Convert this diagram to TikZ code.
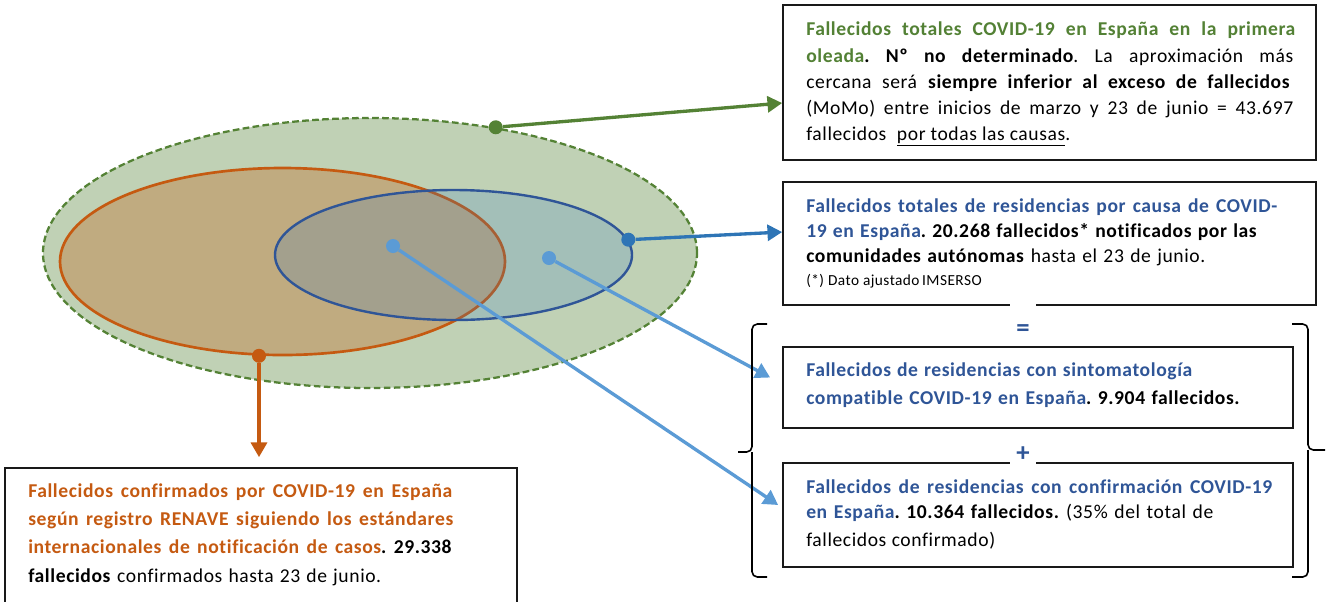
\documentclass[tikz,border=0pt]{standalone}
\usepackage{fontspec}
\setmainfont{Carlito}[LetterSpace=3,Ligatures={TeX,NoCommon}]
\usetikzlibrary{shapes.geometric,arrows.meta}
\frenchspacing
\definecolor{gfill}{HTML}{C0D1B5}
\definecolor{gline}{HTML}{548235}
\definecolor{ofill}{HTML}{C0AB80}
\definecolor{oline}{HTML}{C55A11}
\definecolor{bfill}{HTML}{2F77C4}
\definecolor{bline}{HTML}{2F5597}
\definecolor{barrow}{HTML}{2E75B6}
\definecolor{lblue}{HTML}{5B9BD5}
\definecolor{tgreen}{HTML}{538135}
\definecolor{tblue}{HTML}{2F5597}
\definecolor{torange}{HTML}{C55A11}
\newcommand{\jl}[2]{\makebox[#1][s]{#2}}
\newcommand{\mainfs}{\fontsize{14.7}{17}\selectfont}
\newcommand{\smallfs}{\fontsize{11.5}{13}\selectfont}
\begin{document}
\frenchspacing
\begin{tikzpicture}[x=0.75pt,y=-0.75pt,
  ell/.style={ellipse,inner sep=0pt},
  dot/.style={circle,inner sep=0pt,minimum size=10.5pt},
  conn/.style={line width=2.5pt,-{Triangle[length=11pt,width=12pt]}},
  box/.style={rectangle,draw=black!90,fill=white,line width=1.3pt,inner sep=0pt},
  tl/.style={anchor=base west,inner sep=0pt,font=\mainfs\frenchspacing},
  sl/.style={anchor=base west,inner sep=0pt,font=\smallfs},
  patch/.style={fill=white,inner sep=0pt,text=tblue,font=\fontsize{20}{20}\selectfont\bfseries},
  brc/.style={draw=black,line width=1.2pt,rounded corners=4pt}]
\useasboundingbox (0,0) rectangle (1330,601);

% ellipses
\node[ell,fill=gfill,draw=gline,line width=1.7pt,dash pattern=on 5pt off 2.5pt,
      minimum width=490.5pt,minimum height=202.5pt] (outer) at (370,253) {};
\node[ell,fill=ofill,draw=oline,line width=2pt,
      minimum width=333.75pt,minimum height=140.25pt] (orange) at (282.5,261.5) {};
\node[ell,fill=bfill,fill opacity=0.2,draw=bline,draw opacity=1,line width=1.8pt,
      minimum width=267.75pt,minimum height=97.5pt] (blue) at (453.5,255) {};

% boxes
\node[box,minimum width=399.75pt,minimum height=116.25pt] (box1) at (1049.5,82.5) {};
\node[box,minimum width=399.75pt,minimum height=92.25pt] (box2) at (1049.5,243.5) {};
\node[box,minimum width=382.5pt,minimum height=60.75pt] (box3) at (1038,387.5) {};
\node[box,minimum width=382.5pt,minimum height=78pt] (box4) at (1038,515) {};
\node[box,minimum width=384pt,minimum height=102.75pt] (box5) at (261,536.5) {};

% dots
\node[dot,fill=gline] (gd) at (outer.45) {};
\node[dot,fill=oline] (od) at (orange.256) {};
\node[dot,fill=barrow] (bd) at (blue.5) {};
\node[dot,fill=lblue] (l1) at (393,246) {};
\node[dot,fill=lblue] (l2) at (549,258) {};

% connectors
\draw[conn,gline] (gd) -- ([yshift=-15.4pt]box1.west);
\draw[conn,barrow] (bd) -- ([yshift=8.6pt]box2.west);
\draw[conn,lblue] (l2) -- ([xshift=-9pt,yshift=7.5pt]box3.west);
\draw[conn,lblue] (l1) -- ([xshift=-3pt,yshift=7.5pt]box4.west);
\draw[conn,oline,shorten >=7.5pt] (od) -- (od |- box5.north);

% braces
\draw[brc] (767,324) -- (752,324) -- (752,452) -- (738,452);
\draw[brc] (752,452) -- (752,577) -- (767,577);
\draw[brc] (1292,324) -- (1308,324) -- (1308,450) -- (1325,450);
\draw[brc] (1308,450) -- (1308,577) -- (1292,577);

% = and +
\node[patch,minimum width=20pt,minimum height=30pt] (eq) at (1023,323) {\raisebox{-9.75pt}[0pt][0pt]{=}};
\node[patch,minimum width=20pt,minimum height=27pt] (plus) at (1023,447) {\raisebox{-10.5pt}[0pt][0pt]{+}};

% box 1 text
\node[tl] (a1) at (806,35) {\jl{366.75pt}{\textcolor{tgreen}{\bfseries Fallecidos totales COVID-19 en España en la primera}}};
\node[tl] (a2) at (806,62) {\jl{365.25pt}{\textcolor{tgreen}{\bfseries oleada}\textbf{. Nº no determinado}. La aproximación más}};
\node[tl] (a3) at (806,88) {\jl{363pt}{cercana será \textbf{siempre inferior al exceso de fallecidos}}};
\node[tl] (a4) at (806,114) {\jl{365.25pt}{(MoMo) entre inicios de marzo y 23 de junio = 43.697}};
\node[tl] (a5) at (806,140) {\jl{198pt}{fallecidos \underline{por todas las causas}.}};

% box 2 text
\node[tl] (b1) at (806,212) {\jl{353.25pt}{\textcolor{tblue}{\bfseries Fallecidos totales de residencias por causa de COVID-}}};
\node[tl] (b2) at (806,237) {\jl{338.25pt}{\textcolor{tblue}{\bfseries 19 en España}\textbf{. 20.268 fallecidos* notificados por las}}};
\node[tl] (b3) at (806,262) {\jl{299.25pt}{\textbf{comunidades autónomas} hasta el 23 de junio.}};
\node[sl] (b4) at (806,285) {(*) Dato ajustado\,IMSERSO};

% box 3 text
\node[tl] (c1) at (806,376) {\jl{289.5pt}{\textcolor{tblue}{\bfseries Fallecidos de residencias con sintomatología}}};
\node[tl] (c2) at (806,404) {\jl{325.5pt}{\textcolor{tblue}{\bfseries compatible COVID-19 en España}\textbf{. 9.904 fallecidos.}}};

% box 4 text
\node[tl] (d1) at (806,493) {\jl{349.5pt}{\textcolor{tblue}{\bfseries Fallecidos de residencias con confirmación COVID-19}}};
\node[tl] (d2) at (806,518) {\jl{305.25pt}{\textcolor{tblue}{\bfseries en España}\textbf{. 10.364 fallecidos.} (35\% del total de}};
\node[tl] (d3) at (806,546) {\jl{141.75pt}{fallecidos confirmado)}};

% box 5 text
\node[tl] (e1) at (28,497) {\jl{318pt}{\textcolor{torange}{\bfseries Fallecidos confirmados por COVID-19 en España}}};
\node[tl] (e2) at (28,525) {\jl{318.75pt}{\textcolor{torange}{\bfseries según registro RENAVE siguiendo los estándares}}};
\node[tl] (e3) at (28,553) {\jl{318pt}{\textcolor{torange}{\bfseries internacionales de notificación de casos}\textbf{. 29.338}}};
\node[tl] (e4) at (28,582) {\jl{264.75pt}{\textbf{fallecidos} confirmados hasta 23 de junio.}};
\end{tikzpicture}
\end{document}
